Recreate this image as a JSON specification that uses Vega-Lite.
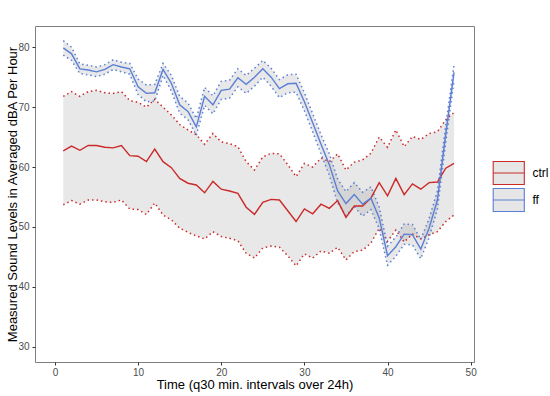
{
  "$schema": "https://vega.github.io/schema/vega-lite/v6.json",
  "width": 439,
  "height": 336,
  "autosize": "none",
  "padding": {"left": 35, "top": 26, "right": 76, "bottom": 34},
  "config": {
    "font": "Liberation Sans",
    "view": {"stroke": "#7f7f7f", "strokeWidth": 1},
    "axis": {"domain": false, "grid": false, "tickColor": "#333333", "tickSize": 3, "tickWidth": 1, "labelColor": "#4d4d4d", "labelFontSize": 10, "labelPadding": 2, "titleFontSize": 13, "titleColor": "#000000", "titleFontWeight": "normal"},
    "legend": {"padding": 0}
  },
  "data": {"values": [
    {"t":1,"g":"ctrl","m":62.7,"lo":53.7,"hi":71.8},
    {"t":2,"g":"ctrl","m":63.5,"lo":54.4,"hi":72.6},
    {"t":3,"g":"ctrl","m":62.8,"lo":53.8,"hi":71.8},
    {"t":4,"g":"ctrl","m":63.6,"lo":54.5,"hi":72.6},
    {"t":5,"g":"ctrl","m":63.6,"lo":54.5,"hi":72.8},
    {"t":6,"g":"ctrl","m":63.3,"lo":54.2,"hi":72.4},
    {"t":7,"g":"ctrl","m":63.2,"lo":54.1,"hi":72.3},
    {"t":8,"g":"ctrl","m":63.6,"lo":54.5,"hi":72.6},
    {"t":9,"g":"ctrl","m":61.9,"lo":53.0,"hi":71.1},
    {"t":10,"g":"ctrl","m":61.8,"lo":52.9,"hi":70.8},
    {"t":11,"g":"ctrl","m":60.9,"lo":52.1,"hi":70.0},
    {"t":12,"g":"ctrl","m":63.0,"lo":54.0,"hi":71.3},
    {"t":13,"g":"ctrl","m":60.9,"lo":52.0,"hi":70.0},
    {"t":14,"g":"ctrl","m":59.9,"lo":51.2,"hi":68.7},
    {"t":15,"g":"ctrl","m":58.1,"lo":49.8,"hi":67.1},
    {"t":16,"g":"ctrl","m":57.3,"lo":49.1,"hi":66.2},
    {"t":17,"g":"ctrl","m":57.0,"lo":48.5,"hi":65.4},
    {"t":18,"g":"ctrl","m":55.7,"lo":48.0,"hi":63.8},
    {"t":19,"g":"ctrl","m":57.6,"lo":49.2,"hi":65.6},
    {"t":20,"g":"ctrl","m":56.3,"lo":48.4,"hi":64.2},
    {"t":21,"g":"ctrl","m":56.0,"lo":48.1,"hi":63.9},
    {"t":22,"g":"ctrl","m":55.6,"lo":47.7,"hi":63.4},
    {"t":23,"g":"ctrl","m":53.3,"lo":45.6,"hi":60.9},
    {"t":24,"g":"ctrl","m":52.1,"lo":44.8,"hi":59.5},
    {"t":25,"g":"ctrl","m":54.1,"lo":46.5,"hi":61.7},
    {"t":26,"g":"ctrl","m":54.6,"lo":46.8,"hi":62.3},
    {"t":27,"g":"ctrl","m":54.5,"lo":46.6,"hi":62.2},
    {"t":28,"g":"ctrl","m":52.7,"lo":45.2,"hi":60.4},
    {"t":29,"g":"ctrl","m":50.9,"lo":43.5,"hi":58.4},
    {"t":30,"g":"ctrl","m":53.0,"lo":45.5,"hi":60.6},
    {"t":31,"g":"ctrl","m":52.2,"lo":44.8,"hi":60.0},
    {"t":32,"g":"ctrl","m":53.8,"lo":46.0,"hi":61.5},
    {"t":33,"g":"ctrl","m":53.1,"lo":45.6,"hi":60.9},
    {"t":34,"g":"ctrl","m":54.4,"lo":46.6,"hi":62.2},
    {"t":35,"g":"ctrl","m":51.6,"lo":44.5,"hi":59.5},
    {"t":36,"g":"ctrl","m":53.5,"lo":45.9,"hi":60.8},
    {"t":37,"g":"ctrl","m":53.5,"lo":46.1,"hi":61.2},
    {"t":38,"g":"ctrl","m":54.8,"lo":47.3,"hi":62.3},
    {"t":39,"g":"ctrl","m":57.4,"lo":49.8,"hi":65.0},
    {"t":40,"g":"ctrl","m":55.2,"lo":47.6,"hi":63.3},
    {"t":41,"g":"ctrl","m":58.1,"lo":49.5,"hi":66.2},
    {"t":42,"g":"ctrl","m":55.4,"lo":47.5,"hi":63.4},
    {"t":43,"g":"ctrl","m":57.2,"lo":48.8,"hi":65.1},
    {"t":44,"g":"ctrl","m":56.3,"lo":48.0,"hi":64.6},
    {"t":45,"g":"ctrl","m":57.4,"lo":48.7,"hi":65.6},
    {"t":46,"g":"ctrl","m":57.5,"lo":49.2,"hi":65.9},
    {"t":47,"g":"ctrl","m":59.8,"lo":50.9,"hi":67.9},
    {"t":48,"g":"ctrl","m":60.6,"lo":52.0,"hi":69.1},
    {"t":1,"g":"ff","m":79.9,"lo":78.7,"hi":81.1},
    {"t":2,"g":"ff","m":78.9,"lo":77.8,"hi":80.0},
    {"t":3,"g":"ff","m":76.4,"lo":75.6,"hi":77.2},
    {"t":4,"g":"ff","m":76.2,"lo":75.4,"hi":77.0},
    {"t":5,"g":"ff","m":75.9,"lo":75.1,"hi":76.7},
    {"t":6,"g":"ff","m":76.3,"lo":75.5,"hi":77.1},
    {"t":7,"g":"ff","m":77.1,"lo":76.3,"hi":77.9},
    {"t":8,"g":"ff","m":76.7,"lo":75.9,"hi":77.5},
    {"t":9,"g":"ff","m":76.4,"lo":75.5,"hi":77.3},
    {"t":10,"g":"ff","m":73.4,"lo":72.1,"hi":74.7},
    {"t":11,"g":"ff","m":72.3,"lo":70.9,"hi":73.7},
    {"t":12,"g":"ff","m":72.4,"lo":71.0,"hi":73.8},
    {"t":13,"g":"ff","m":76.3,"lo":75.3,"hi":77.3},
    {"t":14,"g":"ff","m":74.0,"lo":72.7,"hi":75.3},
    {"t":15,"g":"ff","m":70.4,"lo":69.0,"hi":71.8},
    {"t":16,"g":"ff","m":69.3,"lo":67.9,"hi":70.7},
    {"t":17,"g":"ff","m":66.7,"lo":65.3,"hi":68.1},
    {"t":18,"g":"ff","m":71.8,"lo":70.3,"hi":73.3},
    {"t":19,"g":"ff","m":70.4,"lo":68.9,"hi":71.9},
    {"t":20,"g":"ff","m":72.8,"lo":71.3,"hi":74.3},
    {"t":21,"g":"ff","m":73.0,"lo":71.5,"hi":74.5},
    {"t":22,"g":"ff","m":74.9,"lo":73.4,"hi":76.4},
    {"t":23,"g":"ff","m":73.8,"lo":72.3,"hi":75.3},
    {"t":24,"g":"ff","m":75.0,"lo":73.5,"hi":76.5},
    {"t":25,"g":"ff","m":76.4,"lo":75.0,"hi":77.8},
    {"t":26,"g":"ff","m":75.0,"lo":73.5,"hi":76.5},
    {"t":27,"g":"ff","m":73.1,"lo":71.6,"hi":74.6},
    {"t":28,"g":"ff","m":73.9,"lo":72.4,"hi":75.4},
    {"t":29,"g":"ff","m":74.0,"lo":72.5,"hi":75.5},
    {"t":30,"g":"ff","m":70.9,"lo":69.4,"hi":72.4},
    {"t":31,"g":"ff","m":67.4,"lo":65.9,"hi":68.9},
    {"t":32,"g":"ff","m":63.8,"lo":62.2,"hi":65.4},
    {"t":33,"g":"ff","m":60.4,"lo":58.6,"hi":62.2},
    {"t":34,"g":"ff","m":56.0,"lo":54.0,"hi":58.0},
    {"t":35,"g":"ff","m":53.9,"lo":51.9,"hi":55.9},
    {"t":36,"g":"ff","m":55.4,"lo":53.4,"hi":57.4},
    {"t":37,"g":"ff","m":53.8,"lo":51.8,"hi":55.8},
    {"t":38,"g":"ff","m":54.8,"lo":52.9,"hi":56.7},
    {"t":39,"g":"ff","m":51.5,"lo":49.7,"hi":53.3},
    {"t":40,"g":"ff","m":45.2,"lo":43.6,"hi":46.8},
    {"t":41,"g":"ff","m":46.7,"lo":45.1,"hi":48.3},
    {"t":42,"g":"ff","m":48.8,"lo":47.1,"hi":50.5},
    {"t":43,"g":"ff","m":48.7,"lo":47.0,"hi":50.4},
    {"t":44,"g":"ff","m":46.3,"lo":44.7,"hi":47.9},
    {"t":45,"g":"ff","m":49.8,"lo":48.2,"hi":51.4},
    {"t":46,"g":"ff","m":54.5,"lo":53.0,"hi":56.0},
    {"t":47,"g":"ff","m":65.5,"lo":64.1,"hi":66.9},
    {"t":48,"g":"ff","m":75.8,"lo":74.5,"hi":77.1}
  ]},
  "encoding": {
    "x": {"field": "t", "type": "quantitative", "scale": {"domain": [-2.4, 50.4], "nice": false, "zero": false}, "axis": {"values": [0, 10, 20, 30, 40, 50], "title": "Time (q30 min. intervals over 24h)", "titlePadding": 1, "labelFlush": false}},
    "color": {"field": "g", "type": "nominal", "scale": {"domain": ["ctrl", "ff"], "range": ["#cc2a2a", "#5b7fd6"]},
      "legend": {"title": null, "orient": "none", "legendX": 460.75, "legendY": 134, "symbolType": "M-1.27,-0.94H1.27V0.94H-1.27Z M-1.27,0H1.27", "symbolSize": 600, "rowPadding": -3.5, "labelOffset": 10.75, "labelFontSize": 12, "labelColor": "#000000", "symbolFillColor": "#e6e6e6", "symbolStrokeWidth": 1.1, "symbolDash": [],
        "encode": {"symbols": {"update": {"fill": {"value": "#e6e6e6"}, "strokeWidth": {"value": 1.1}, "opacity": {"value": 1}}}}}}
  },
  "layer": [
    {
      "mark": {"type": "area", "color": "#7f7f7f", "opacity": 0.18},
      "encoding": {
        "y": {"field": "lo", "type": "quantitative", "scale": {"domain": [27.45, 83.55], "nice": false, "zero": false}, "axis": {"values": [30, 40, 50, 60, 70, 80], "title": "Measured Sound Levels in Averaged dBA Per Hour", "titlePadding": -2, "labelPadding": 3}},
        "y2": {"field": "hi"},
        "color": null,
        "detail": {"field": "g", "type": "nominal"}
      }
    },
    {
      "mark": {"type": "line", "strokeDash": [1.5, 3], "strokeWidth": 1.5},
      "encoding": {
        "y": {"field": "lo", "type": "quantitative"}
      }
    },
    {
      "mark": {"type": "line", "strokeDash": [1.5, 3], "strokeWidth": 1.5},
      "encoding": {
        "y": {"field": "hi", "type": "quantitative"}
      }
    },
    {
      "mark": {"type": "line", "strokeWidth": 1.4},
      "encoding": {
        "y": {"field": "m", "type": "quantitative"}
      }
    }
  ]
}
